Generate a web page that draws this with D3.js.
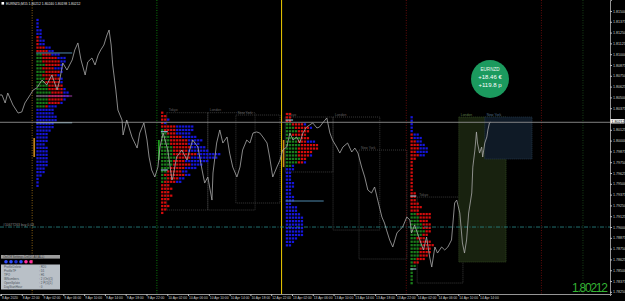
<!DOCTYPE html>
<html>
<head>
<meta charset="utf-8">
<script src="https://cdn.jsdelivr.net/npm/d3@7"></script>
<style>
html, body { margin: 0; padding: 0; background: #000; overflow: hidden; }
text { font-family: "Liberation Sans", Arial, sans-serif; }
</style>
</head>
<body>
<div id="chart"></div>
<script>
const WIDTH = 625, HEIGHT = 301;
const PLOT_R = 610, PLOT_B = 294;

// price path: [trading hour from 8 Apr 18:00, close]
const pricePath = [
  [-0.2,1.80528],[0.2,1.80528],[0.8,1.80435],[1.3,1.80551],[2.3,1.80412],[3.3,1.80319],[4.0,1.80331],[4.6,1.80435],
  [5.6,1.80528],[6.2,1.80586],[6.9,1.80609],[7.9,1.80701],[8.8,1.80644],[9.8,1.80759],[10.8,1.80586],[11.3,1.80701],
  [11.9,1.80898],[12.7,1.80817],[13.7,1.80933],[14.2,1.81049],[14.8,1.81130],[15.4,1.80933],[16.2,1.80759],[16.7,1.80910],
  [17.5,1.80956],[18.1,1.80875],[18.7,1.80991],[19.2,1.81049],[19.8,1.81106],[20.4,1.81222],[20.8,1.81280],[21.2,1.81106],
  [21.5,1.80875],[22.1,1.80586],[22.5,1.80354],[23.3,1.80238],[23.5,1.80065],[24.2,1.80238],[25.2,1.80042],[26.2,1.79914],
  [26.7,1.80088],[27.5,1.80204],[28.1,1.80007],[28.5,1.79810],[29.0,1.79660],[29.6,1.79579],[30.2,1.79694],[30.6,1.79926],
  [31.2,1.80088],[32.1,1.79891],[32.9,1.79544],[33.1,1.79579],[33.8,1.79810],[34.8,1.79891],[35.8,1.79775],[36.3,1.79891],
  [36.9,1.80007],[37.9,1.79926],[38.7,1.79660],[39.2,1.79509],[39.8,1.79579],[40.6,1.79312],[40.8,1.79625],[41.5,1.79972],
  [42.1,1.80123],[42.7,1.79972],[43.5,1.80042],[44.0,1.79856],[44.6,1.79694],[45.4,1.79579],[46.0,1.79694],[46.5,1.79891],
  [47.3,1.80007],[47.9,1.79972],[48.5,1.80088],[49.2,1.80100],[49.8,1.80088],[50.4,1.80042],[51.2,1.79972],[51.7,1.79810],
  [52.3,1.79579],[53.1,1.79694],[53.7,1.79775],[54.2,1.79891],[55.0,1.79926],[55.6,1.80088],[56.2,1.80007],[56.9,1.80042],
  [57.5,1.79972],[58.1,1.80088],[58.8,1.80157],[59.4,1.80181],[60.0,1.80204],[60.8,1.80146],[61.3,1.80157],[61.9,1.80204],
  [62.7,1.80262],[63.3,1.80088],[63.8,1.80007],[64.6,1.79926],[65.2,1.79856],[65.8,1.79926],[66.7,1.79972],[67.5,1.79868],
  [68.1,1.79914],[68.7,1.79856],[69.4,1.79694],[70.0,1.79579],[70.6,1.79428],[71.3,1.79394],[71.9,1.79463],[72.5,1.79312],
  [73.3,1.79116],[73.8,1.79046],[74.2,1.78965],[74.8,1.78850],[75.4,1.78769],[76.2,1.78931],[76.7,1.78965],[77.3,1.79000],
  [78.1,1.79116],[78.7,1.79081],[79.0,1.78931],[79.6,1.79023],[80.6,1.78850],[81.3,1.78734],[81.9,1.78884],[82.5,1.78653],
  [82.9,1.78537],[83.5,1.78769],[84.0,1.78699],[84.8,1.78769],[85.4,1.78734],[86.0,1.78769],[86.7,1.78850],[87.3,1.79278],
  [87.7,1.79312],[88.3,1.79162],[88.8,1.78815],[89.2,1.78699],[89.6,1.78850],[90.0,1.79162],[90.6,1.79394],[90.8,1.79694],
  [91.2,1.79891],[91.5,1.80100],[91.7,1.79972],[92.1,1.79856],[92.5,1.79926],[92.7,1.79810],[93.1,1.79972],[93.5,1.80042],
  [93.7,1.80123],[94.0,1.80204],[94.2,1.80212]
];

const priceTicks = [1.78250,1.78375,1.78500,1.78625,1.78750,1.78875,1.79000,1.79125,1.79250,1.79375,1.79500,1.79625,1.79750,
  1.79875,1.80000,1.80125,1.80250,1.80375,1.80500,1.80625,1.80750,1.80875,1.81000,1.81125,1.81250,1.81375,1.81500];
const timeTicks = [0,4,8,12,16,20,24,28,32,36,40,44,48,52,56,60,64,68,72,76,80,84,88,92];
const timeLabels = ["8 Apr 2020","8 Apr 22:00","9 Apr 02:00","9 Apr 06:00","9 Apr 10:00","9 Apr 14:00","9 Apr 18:00",
  "9 Apr 22:00","10 Apr 02:00","10 Apr 06:00","10 Apr 10:00","10 Apr 14:00","10 Apr 18:00","12 Apr 22:00","13 Apr 02:00",
  "13 Apr 06:00","13 Apr 10:00","13 Apr 14:00","13 Apr 18:00","13 Apr 22:00","14 Apr 02:00","14 Apr 06:00","14 Apr 10:00",
  "14 Apr 14:00"];

const BID = 1.80212;
const ORDER_PRICE = 1.79000;
const TPO_STEP = 0.0004;

// day separators [hour, kind]
const daySeps = [[6,"orange"],[30,"green"],[54,"yellow"],[78,"red"],[104,"red"],[112,"dgreen"]];

// TPO rows per day, top to bottom: [green, red, blue] letter counts
const rows0409 = [[0,0,1],[0,0,1],[0,0,1],[0,0,2],[0,0,2],[0,1,1],[0,1,2],[0,1,2],[0,3,2],[0,4,2],[2,3,3],[2,5,3],[2,6,2],
  [3,5,1],[2,4,3],[3,5,1],[2,5,1],[3,5,1],[3,5,1],[4,5,0],[4,5,1],[5,4,2],[4,5,2],[4,5,1],[4,4,1],[3,1,3],[0,0,6],[0,0,6],
  [0,0,7],[0,0,7],[0,0,6],[0,0,6],[0,0,5],[0,0,4],[0,0,4],[0,0,4],[0,0,3],[0,0,4],[0,0,4],[0,0,4],[0,0,4],[0,0,4],[0,0,4],
  [0,0,3],[0,0,3],[0,0,2],[0,0,1],[0,0,1],[0,0,1]];
const rows0410 = [[0,1,0],[0,2,0],[0,2,1],[0,1,1],[0,5,6],[1,4,6],[2,3,5],[3,4,5],[3,6,5],[3,6,4],[4,6,5],[4,5,7],[4,8,8],
  [5,5,9],[4,4,8],[4,6,4],[3,5,4],[2,5,2],[1,7,2],[2,4,2],[1,4,2],[0,3,0],[0,4,0],[0,3,0],[0,4,0],[0,3,0],[0,2,0],[0,3,0],
  [0,2,0],[0,1,0]];
const rows0413 = [[0,2,0],[0,2,0],[0,2,0],[2,4,1],[3,5,1],[4,4,0],[2,5,0],[5,3,0],[4,3,3],[5,6,0],[4,7,0],[4,5,0],[4,4,1],
  [5,2,0],[4,2,1],[2,0,1],[0,0,3],[0,0,2],[0,0,2],[0,0,2],[0,0,3],[0,0,3],[0,0,2],[0,0,2],[0,0,3],[0,0,3],[0,0,2],[0,0,4],
  [0,0,4],[0,0,5],[0,0,6],[0,0,6],[0,0,6],[0,0,6],[0,0,6],[0,0,6],[0,0,4],[0,0,3],[0,0,2]];
const rows0414 = [[0,0,1],[0,0,1],[0,0,1],[0,0,1],[0,0,1],[0,1,2],[0,1,3],[0,2,2],[0,3,2],[0,3,3],[0,2,4],[0,3,2],[0,2,0],
  [0,1,0],[0,1,0],[0,1,0],[0,1,0],[0,1,0],[0,1,0],[0,1,0],[0,1,0],[0,1,0],[0,2,0],[0,2,0],[0,2,0],[0,3,0],[0,4,0],[0,3,0],
  [2,5,0],[3,4,0],[3,3,0],[4,3,0],[4,3,0],[5,2,0],[4,2,0],[2,3,0],[3,4,0],[4,4,0],[3,4,0],[3,4,0],[3,3,0],[2,3,0],[1,2,0],
  [2,0,0],[1,0,0],[1,0,0],[1,0,0],[1,0,0],[1,0,0]];

const profileDays = [6, 30, 54, 78];
const profileTops = [1.81396, 1.80323, 1.80308, 1.80270];
const profileRows = [rows0409, rows0410, rows0413, rows0414];

// profile level lines: [day index, price, length in letters, kind]
const profileLevels = [[0,1.81014,12,"poc"],[0,1.80516,12,"mag"],[0,1.80207,12,"pale"],[1,1.80103,2.3,"pale"],
  [1,1.79660,2.3,"pale"],[2,1.80238,2.5,"pale"],[2,1.79301,12.7,"poc"],[3,1.79359,2,"pale"],[3,1.78514,2,"pale"]];
// initial-balance side markers: [day index, high, low, kind]
const ibMarks = [[0,1.80030,1.79810,"orange"],[1,1.80007,1.79775,"green"],[2,1.80007,1.79694,"orange"]];

// session boxes: [name, start hour, end hour, high, low, style]
const sessions = [
  ["Tokyo",31.9,39.8,1.80323,1.79197,"plain"],["London",39.8,48.9,1.80323,1.79197,"plain"],
  ["New York",45.2,53.7,1.80296,1.79278,"plain"],
  ["Tokyo",54.7,63.9,1.80273,1.79637,"plain"],["London",63.9,72.9,1.80273,1.78965,"plain"],
  ["New York",68.9,78.1,1.79891,1.78630,"plain"],
  ["Tokyo",80.1,88.9,1.79347,1.78352,"plain"],["London",88.1,97.2,1.80273,1.78595,"london"],
  ["New York",93.1,102.2,1.80273,1.79787,"ny"]
];

const panelRows = [["ProfileDelete",": R20"],["ProfileTF",": D1"],["TPO",": H1"],["IBNumbers",": 2 (On)(1)"],
  ["OpenSplate",": 2 P(1)(1)"],["DayStartHour",": 0"]];
const panelDots = ["#2f4dff","#2f4dff","#1b2fd0","#2f4dff","#ff2fa0","#ff2fa0"];

const x = d3.scaleLinear().domain([-0.19, 117.2]).range([0, PLOT_R]);
const y = d3.scaleLinear().domain([1.78225, 1.81627]).range([PLOT_B, 0]);

const svg = d3.select("#chart").append("svg")
  .attr("width", WIDTH).attr("height", HEIGHT)
  .style("display", "block").style("background", "#000");

// session boxes
const boxStyle = {
  plain: { fill: "none", stroke: "#505050", label: "#606060" },
  london: { fill: "#18220f", stroke: "#3e5a2a", label: "#5f7f45" },
  ny: { fill: "#0f1a26", stroke: "#2d4459", label: "#4f6e8c" }
};
const sess = svg.append("g");
sess.selectAll("rect").data(sessions).join("rect")
  .attr("x", d => x(d[1])).attr("y", d => y(d[3]))
  .attr("width", d => x(d[2]) - x(d[1])).attr("height", d => y(d[4]) - y(d[3]))
  .attr("fill", d => boxStyle[d[5]].fill)
  .attr("stroke", d => boxStyle[d[5]].stroke)
  .attr("stroke-width", 0.7).attr("stroke-dasharray", "1,1");
sess.selectAll("text").data(sessions).join("text")
  .attr("x", d => x(d[1]) + 2).attr("y", d => y(d[3]) - 1.5)
  .attr("font-size", 3.4).attr("fill", d => boxStyle[d[5]].label)
  .text(d => d[0]);

// day separators
const sepColor = { orange: "#b07a18", green: "#0e9a0e", yellow: "#f0cc00", red: "#7a0c0c", dgreen: "#1a501a" };
svg.append("g").selectAll("line").data(daySeps).join("line")
  .attr("x1", d => x(d[0])).attr("x2", d => x(d[0]))
  .attr("y1", 0).attr("y2", PLOT_B)
  .attr("stroke", d => sepColor[d[1]])
  .attr("stroke-width", d => d[1] === "yellow" ? 1 : 0.8)
  .attr("stroke-dasharray", d => d[1] === "yellow" ? null : "1,1.5");

// TPO profiles
const tpoColors = ["#1a7e1a", "#d40c0c", "#1616dc"];
const LETTER = 3;
const prof = svg.append("g");
profileRows.forEach((rows, pi) => {
  const x0 = x(profileDays[pi]) + 4;
  const cells = [];
  rows.forEach((r, ri) => {
    const price = profileTops[pi] - ri * TPO_STEP;
    let k = 0;
    r.forEach((n, ci) => {
      for (let j = 0; j < n; j++) cells.push({ price, k: k++, c: ci });
    });
  });
  prof.append("g").selectAll("rect").data(cells).join("rect")
    .attr("x", d => x0 + d.k * LETTER + 0.2)
    .attr("y", d => y(d.price) - 1.1)
    .attr("width", LETTER - 0.7).attr("height", 2.2)
    .attr("fill", d => tpoColors[d.c]);
});

const levelColor = { poc: "#4f89ad", mag: "#a03aa8", pale: "#9fd4ec" };
prof.append("g").selectAll("line").data(profileLevels).join("line")
  .attr("x1", d => x(profileDays[d[0]]) + 4)
  .attr("x2", d => x(profileDays[d[0]]) + 4 + d[2] * LETTER)
  .attr("y1", d => y(d[1])).attr("y2", d => y(d[1]))
  .attr("stroke", d => levelColor[d[3]]).attr("stroke-width", 1);

const ibColor = { orange: "#c8861a", green: "#22a822" };
prof.append("g").selectAll("rect").data(ibMarks).join("rect")
  .attr("x", d => x(profileDays[d[0]]) + 1.2).attr("y", d => y(d[1]))
  .attr("width", 1.6).attr("height", d => y(d[2]) - y(d[1]))
  .attr("fill", d => ibColor[d[3]]);

// bid line and order line
svg.append("line")
  .attr("x1", 0).attr("x2", PLOT_R).attr("y1", y(BID)).attr("y2", y(BID))
  .attr("stroke", "#8e8e8e").attr("stroke-width", 0.9);
svg.append("line")
  .attr("x1", 0).attr("x2", PLOT_R).attr("y1", y(ORDER_PRICE)).attr("y2", y(ORDER_PRICE))
  .attr("stroke", "#2a8a8a").attr("stroke-width", 0.8).attr("stroke-dasharray", "4,1.5,1,1.5");
svg.append("text")
  .attr("x", 3).attr("y", y(ORDER_PRICE) - 1.5)
  .attr("font-size", 3.4).attr("fill", "#8c8c8c")
  .text("#10677263 buy 0.03");

// price line
const line = d3.line().x(d => x(d[0])).y(d => y(d[1]));
svg.append("path").datum(pricePath)
  .attr("d", line).attr("fill", "none")
  .attr("stroke", "#a9a9a9").attr("stroke-width", 0.8);

// axes (tick label under the bid box is hidden, as on the terminal)
const yAxis = d3.axisRight(y).tickValues(priceTicks).tickSize(2).tickFormat(d3.format(".5f"));
const gy = svg.append("g").attr("transform", `translate(${PLOT_R},0)`).call(yAxis);
gy.select(".domain").attr("stroke", "#bdbdbd").attr("stroke-width", 0.8);
gy.selectAll(".tick line").attr("stroke", "#bdbdbd");
gy.selectAll(".tick text").attr("font-size", 3.6).attr("fill", "#cfcfcf").attr("x", 3);
gy.selectAll(".tick").filter(d => Math.abs(y(d) - y(BID)) < 5).select("text").remove();

const xAxis = d3.axisBottom(x).tickValues(timeTicks).tickSize(2).tickFormat((d, i) => timeLabels[i]);
const gx = svg.append("g").attr("transform", `translate(0,${PLOT_B})`).call(xAxis);
gx.select(".domain").attr("stroke", "#bdbdbd").attr("stroke-width", 0.8);
gx.selectAll(".tick line").attr("stroke", "#bdbdbd");
gx.selectAll(".tick text").attr("font-size", 3.3).attr("fill", "#cfcfcf")
  .attr("text-anchor", "start").attr("dx", 0.5).attr("y", 2.6);

// bid label on axis
svg.append("rect").attr("x", PLOT_R + 0.5).attr("y", y(BID) - 3.2).attr("width", 14).attr("height", 4.4).attr("fill", "#f2f2f2");
svg.append("text").attr("x", PLOT_R + 1.5).attr("y", y(BID) + 0.3)
  .attr("font-size", 3.6).attr("fill", "#000").text(d3.format(".5f")(BID));

// title
svg.append("rect").attr("x", 1.5).attr("y", 2).attr("width", 2.6).attr("height", 2.6).attr("fill", "#fff");
svg.append("text").attr("x", 6).attr("y", 4.6).attr("font-size", 3.4).attr("fill", "#e6e6e6")
  .text("EURNZD,M15  1.80212 1.80240 1.80198 1.80212");

// profit badge
const badge = svg.append("g").attr("transform", "translate(490,79)");
badge.append("circle").attr("r", 19).attr("fill", "#1b9a5e");
badge.append("text").attr("y", -8).attr("text-anchor", "middle").attr("font-size", 4.6).attr("fill", "#e8f5ee").text("EURNZD");
badge.append("text").attr("y", 0).attr("text-anchor", "middle").attr("font-size", 6).attr("fill", "#ffffff").text("+18.46 €");
badge.append("text").attr("y", 7.5).attr("text-anchor", "middle").attr("font-size", 6).attr("fill", "#ffffff").text("+119.8 p");

// big price
svg.append("text").attr("x", 608).attr("y", 292).attr("text-anchor", "end")
  .attr("font-size", 12).attr("fill", "#34b434").attr("textLength", 36)
  .text(d3.format(".5f")(BID));

// settings panel
const panel = svg.append("g").attr("transform", "translate(1,255)");
panel.append("rect").attr("width", 59).attr("height", 3.6).attr("fill", "#9d9d9d");
panel.append("text").attr("x", 2).attr("y", 2.9).attr("font-size", 3).attr("fill", "#2a2a2a")
  .text("On/Off  Settings  Del(D) All(ALL)");
panel.selectAll("circle").data(panelDots).join("circle")
  .attr("cx", (d, i) => 5 + i * 5).attr("cy", 6.7).attr("r", 1.8).attr("fill", d => d);
panel.append("rect").attr("y", 9.5).attr("width", 59).attr("height", 25).attr("fill", "#b9c0c7");
panel.selectAll(".prow").data(panelRows).join("text").attr("class", "prow")
  .attr("x", 3).attr("y", (d, i) => 13.2 + i * 4).attr("font-size", 3).attr("fill", "#4a525a")
  .text(d => d[0]);
panel.selectAll(".pval").data(panelRows).join("text").attr("class", "pval")
  .attr("x", 38).attr("y", (d, i) => 13.2 + i * 4).attr("font-size", 3).attr("fill", "#4a525a")
  .text(d => d[1]);
</script>
</body>
</html>
